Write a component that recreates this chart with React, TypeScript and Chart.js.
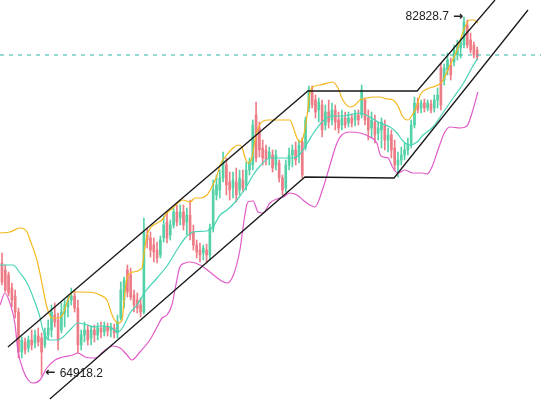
import React, { useEffect, useRef } from 'react';
import { Chart, registerables } from 'chart.js';

Chart.register(...registerables);

// ---- candle data (index 0..144) ----
const opens = [
  70530, 70180, 69930, 69280, 68880, 68080, 66080, 66580, 66280, 66680,
  66530, 66880, 66780, 66430, 66930, 67180, 67930, 67680, 67180, 68030,
  68330, 68680, 68880, 68280, 66430, 66930, 67180, 66780, 67180, 66930,
  67280, 67080, 67330, 67180, 67280, 67030, 67780, 68680, 70180, 69930,
  68930, 68680, 68430, 68080, 71930, 71780, 71430, 71180, 70930, 71780,
  72580, 71930, 72430, 73080, 72780, 73080, 72580, 72930, 72080, 71430,
  71180, 71030, 71180, 70930, 72280, 73930, 74180, 74780, 75430, 74580,
  74280, 74580, 74180, 74680, 74430, 75180, 75430, 77930, 77280, 76280,
  76180, 75780, 75930, 75430, 75530, 74780, 74280, 75430, 75930, 76180,
  75930, 76580, 76330, 78280, 79080, 78680, 78180, 78430, 77430, 78080,
  77680, 78180, 77680, 77430, 77780, 77530, 77780, 77680, 77930, 77930,
  78680, 77780, 77280, 77580, 77030, 77180, 77430, 76680, 76930, 76280,
  75430, 75680, 75930, 76180, 76430, 77430, 78530, 78280, 78530, 78280,
  78480, 78280, 78680, 80280, 79680, 80180, 80430, 80580, 80930, 81280,
  81430, 82430, 81680, 81430, 81180,
];
const highs = [
  71030, 70430, 70080, 69530, 69180, 68280, 66830, 66780, 66880, 67180,
  67180, 67280, 67030, 67280, 67680, 68430, 68530, 68030, 68530, 68680,
  68880, 69280, 69180, 68680, 67180, 67580, 67430, 67380, 67430, 67530,
  67580, 67580, 67530, 67530, 67480, 67930, 69580, 69830, 70430, 70280,
  69180, 69030, 68780, 72780, 72280, 72080, 71780, 71580, 71880, 72880,
  73080, 72680, 73280, 73430, 73430, 73430, 73280, 73680, 72430, 71680,
  71530, 71430, 71480, 72480, 74680, 74930, 75180, 76080, 75780, 75080,
  75080, 75280, 75180, 75180, 75580, 75780, 77680, 78580, 77580, 76680,
  76430, 76330, 76180, 76180, 75680, 74930, 75680, 76280, 76430, 76580,
  76680, 76780, 77830, 79380, 79380, 78930, 78780, 78680, 78430, 78680,
  78530, 78430, 78080, 78180, 78080, 78080, 77980, 78180, 78180, 79430,
  78780, 78180, 78080, 77930, 77580, 77780, 77680, 77280, 77180, 76680,
  76080, 76330, 76530, 76780, 77680, 78830, 78780, 78680, 78730, 78680,
  78680, 78930, 79280, 80530, 80480, 81030, 80780, 81430, 81680, 81780,
  82828.7, 82680, 82030, 81580, 81330,
];
const lows = [
  69430, 69080, 68880, 68330, 67780, 65780, 65780, 65980, 66080, 66180,
  66280, 66380, 64918.2, 66280, 66680, 66830, 67330, 66180, 67030, 67330,
  67830, 68430, 68080, 66030, 66180, 66580, 66430, 66430, 66580, 66680,
  66780, 66880, 66880, 66830, 66780, 66780, 67680, 68280, 68830, 68680,
  68080, 68030, 67830, 67980, 71280, 70830, 70580, 70530, 70780, 71580,
  71530, 71680, 72280, 72380, 72430, 72180, 71930, 71680, 71180, 70780,
  70580, 70680, 70580, 70680, 72080, 73680, 73780, 74580, 73930, 73680,
  73780, 73580, 73930, 74080, 74180, 74930, 75180, 75580, 75830, 75430,
  75430, 75430, 75080, 75180, 74580, 73930, 74080, 75180, 75330, 75430,
  75530, 74780, 76180, 78080, 78280, 77780, 77580, 76830, 77180, 77280,
  77430, 77180, 77030, 77180, 77280, 77330, 77330, 77380, 77430, 77780,
  77430, 76680, 76780, 76530, 76680, 76280, 76180, 76080, 75780, 75180,
  74830, 75430, 75680, 75930, 76280, 77280, 78030, 78030, 78080, 78130,
  78030, 78080, 78280, 78180, 79430, 79930, 79680, 80380, 80680, 80780,
  81280, 81280, 81030, 80780, 80680,
];
const closes = [
  69580, 69180, 69030, 68680, 68080, 66080, 66680, 66180, 66680, 66430,
  66930, 66580, 66080, 67030, 67280, 68080, 67580, 66680, 68080, 68430,
  68680, 68880, 68280, 66430, 66930, 67180, 66680, 67180, 66930, 67280,
  67080, 67380, 67130, 67330, 67030, 67580, 69180, 69680, 69080, 68830,
  68430, 68280, 68080, 72080, 71680, 71180, 71080, 70780, 71680, 72430,
  71780, 72430, 73080, 72580, 73080, 72430, 72930, 71930, 71430, 71080,
  70930, 71280, 70930, 72280, 74180, 74430, 74780, 75680, 74430, 74180,
  74680, 73930, 74780, 74280, 75180, 75580, 77430, 75780, 76180, 75780,
  75680, 76080, 75280, 75930, 74780, 74180, 75430, 75930, 76180, 75680,
  76430, 74930, 77680, 79180, 78430, 78080, 78580, 77180, 78080, 77580,
  78180, 77580, 77280, 77780, 77430, 77780, 77530, 77930, 77680, 79180,
  77680, 77180, 77680, 76930, 77280, 77580, 76680, 76930, 76180, 75430,
  75680, 75930, 76180, 76430, 77430, 78530, 78180, 78530, 78280, 78530,
  78180, 78680, 78930, 78430, 80280, 80680, 79930, 81180, 81430, 81580,
  82580, 81430, 81180, 80930, 80830,
];

// ---- Bollinger bands, [bar index, price] ----
const upperBand: [number, number][] = [
  [-0.6, 72030], [2.4, 72080], [5.5, 72280], [7.6, 72080], [8.5, 71680], [10.6, 70680],
  [12.1, 69530], [13.6, 68330], [15.2, 67780], [17.0, 67780], [18.5, 67980], [20.0, 68680],
  [21.5, 69080], [23.6, 69080], [28.2, 69030], [29.7, 68930], [31.8, 68680], [33.6, 67830],
  [35.2, 67530], [36.4, 67680], [37.0, 68680], [37.9, 69780], [39.7, 70080], [42.4, 70280],
  [43.3, 71330], [44.2, 72030], [47.0, 72530], [48.5, 72680], [50.0, 73030], [51.8, 73280],
  [53.3, 73530], [54.8, 73680], [57.0, 73580], [58.5, 73780], [60.0, 73780], [62.1, 73930],
  [63.6, 74330], [65.2, 74930], [66.1, 75430], [67.6, 75830], [70.0, 76280], [71.5, 76430],
  [72.7, 76330], [73.6, 75830], [74.5, 75530], [75.8, 75830], [76.7, 76680], [78.2, 77480],
  [80.6, 77680], [82.7, 77680], [85.8, 77680], [87.3, 77680], [88.2, 77330], [89.4, 76780],
  [90.3, 76580], [91.2, 76780], [92.4, 77830], [93.3, 79030], [94.2, 79330], [96.4, 79430],
  [100.3, 79580], [101.8, 79280], [103.3, 78680], [105.5, 78330], [107.0, 78430], [108.5, 78680],
  [110.6, 78780], [112.4, 78830], [114.5, 78830], [116.7, 78730], [118.5, 78680], [120.0, 78380],
  [121.5, 77830], [123.0, 77680], [124.5, 77980], [125.8, 78430], [126.7, 78930], [128.8, 79230],
  [130.6, 79330], [133.3, 79580], [135.8, 80430], [137.9, 81180], [139.4, 81930], [140.3, 82330],
  [141.8, 82680], [143.0, 82680], [144.2, 82530],
];
const midBand: [number, number][] = [
  [-0.6, 70430], [3.3, 70430], [5.5, 70030], [7.6, 69530], [9.4, 68830], [11.5, 67830],
  [12.4, 67180], [14.5, 66680], [16.7, 66680], [18.5, 66830], [20.6, 67180], [23.0, 67530],
  [25.8, 67430], [28.2, 67330], [29.7, 67380], [32.7, 67330], [35.2, 67080], [36.7, 67330],
  [38.8, 68030], [40.9, 68430], [43.3, 69080], [47.0, 69780], [50.0, 70380], [53.0, 71180],
  [55.5, 71780], [57.9, 72080], [62.1, 72130], [63.9, 72330], [66.1, 72930], [68.2, 73180],
  [71.2, 73680], [74.2, 74380], [76.1, 74930], [78.2, 75380], [81.2, 75780], [85.2, 75780],
  [88.2, 75780], [90.3, 75980], [92.4, 76480], [94.2, 76980], [97.3, 77630], [100.3, 77880],
  [103.3, 77880], [106.4, 77980], [108.5, 78030], [111.5, 77830], [114.5, 77530], [117.6, 77330],
  [119.7, 77030], [121.5, 76630], [123.6, 76430], [125.8, 76580], [127.6, 76930], [130.6, 77330],
  [133.6, 78030], [136.7, 78780], [139.7, 79480], [142.7, 80380], [144.2, 80780],
];
const lowerBand: [number, number][] = [
  [-0.6, 68430], [0.9, 69030], [2.4, 68530], [3.9, 67530], [4.8, 66180], [6.4, 65180],
  [7.9, 64680], [9.4, 64530], [11.5, 64680], [13.6, 65280], [16.1, 65680], [18.5, 65830],
  [21.5, 65930], [23.0, 66030], [25.2, 65830], [28.2, 65780], [30.6, 66080], [33.6, 66380],
  [35.8, 66280], [37.9, 65930], [39.4, 65680], [41.8, 66080], [44.8, 66680], [47.0, 67330],
  [48.5, 67780], [50.0, 67930], [51.5, 68430], [52.7, 69430], [53.9, 70330], [55.5, 70530],
  [57.0, 70580], [60.0, 70430], [63.0, 70080], [66.1, 69680], [68.2, 69530], [70.0, 69880],
  [72.1, 71180], [73.6, 72930], [74.5, 73580], [76.1, 73630], [77.6, 73080], [79.1, 73030],
  [81.2, 73530], [83.3, 73730], [85.2, 73830], [87.3, 74030], [89.4, 73930], [91.2, 73680],
  [93.3, 73430], [94.8, 73330], [97.3, 74280], [99.4, 75430], [101.5, 76530], [103.0, 76930],
  [105.5, 77080], [108.5, 77030], [111.5, 76830], [113.6, 76530], [114.8, 75880], [117.0, 75780],
  [118.5, 75280], [120.0, 75030], [122.1, 75180], [124.5, 75030], [127.3, 75030], [128.8, 74980],
  [130.3, 75330], [132.1, 76180], [134.2, 77080], [135.8, 77330], [138.8, 77280], [140.9, 77380],
  [142.7, 78180], [144.2, 79080],
];

// ---- channel trend lines, [bar index, price] ----
const upperChannel: [number, number][] = [[1.8, 66330], [92.7, 79130], [125.8, 79130], [149.4, 83680]];
const lowerChannel: [number, number][] = [[14.5, 63730], [91.8, 74830], [118.8, 74780], [159.4, 83180]];

const refPrice = 80930;
const highIndex = 140;
const lowIndex = 12;
const highLabel = '82828.7';
const lowLabel = '64918.2';
const legendTexts = ['82530.1', 'DN: 79080.3'];

const X_MIN = -0.6;
const X_MAX = 163.34;

const GREEN = '#55d1a7';
const RED = '#ee7c86';

const toPts = (arr: [number, number][]) => arr.map(([x, y]) => ({ x, y }));

export default function App() {
  const ref = useRef<HTMLCanvasElement | null>(null);

  useEffect(() => {
    if (!ref.current) return;
    const idx = opens.map((_, i) => i);
    const colors = idx.map((i) => (closes[i] >= opens[i] ? GREEN : RED));

    const annot = {
      id: 'annot',
      afterDatasetsDraw(chart: any) {
        const { ctx, scales } = chart;
        const x = scales.x;
        const y = scales.y;
        ctx.save();
        ctx.fillStyle = '#222';
        ctx.textBaseline = 'middle';
        const hx = x.getPixelForValue(highIndex);
        const hy = y.getPixelForValue(highs[highIndex]);
        // high label: "82828.7 →"
        ctx.font = 'bold 12px "DejaVu Sans", sans-serif';
        ctx.textAlign = 'right';
        const arrowW = ctx.measureText('\u2192').width;
        ctx.fillText('\u2192', hx - 1, hy);
        ctx.font = '12px Arial, "Liberation Sans", sans-serif';
        ctx.fillText(highLabel, hx - 1 - arrowW - 4, hy);
        // low label: "← 64918.2"
        const lx = x.getPixelForValue(lowIndex);
        const ly = y.getPixelForValue(lows[lowIndex]);
        ctx.textAlign = 'left';
        ctx.font = 'bold 12px "DejaVu Sans", sans-serif';
        const arrowW2 = ctx.measureText('\u2190').width;
        ctx.fillText('\u2190', lx + 4, ly - 2);
        ctx.font = '12px Arial, "Liberation Sans", sans-serif';
        ctx.fillText(lowLabel, lx + 4 + arrowW2 + 4, ly - 2);
        // cut-off legend at top
        ctx.font = '12px Arial, sans-serif';
        ctx.textBaseline = 'bottom';
        ctx.fillStyle = '#f2b300';
        ctx.fillText(legendTexts[0], 0, 3);
        ctx.fillStyle = '#e05cc6';
        ctx.fillText(legendTexts[1], 52, 3);
        ctx.restore();
      },
    };

    const lineDs = (label: string, data: [number, number][], color: string, extra: any = {}) => ({
      type: 'line' as const,
      label,
      data: toPts(data),
      borderColor: color,
      borderWidth: 1.2,
      pointRadius: 0,
      fill: false,
      cubicInterpolationMode: 'monotone',
      order: 1,
      ...extra,
    });

    const chart = new Chart(ref.current, {
      type: 'bar',
      data: {
        datasets: [
          lineDs('channelUp', upperChannel, '#1a1a1a', { cubicInterpolationMode: 'default', tension: 0, borderWidth: 1.3, order: 0 }),
          lineDs('channelDn', lowerChannel, '#1a1a1a', { cubicInterpolationMode: 'default', tension: 0, borderWidth: 1.3, order: 0 }),
          lineDs('ref', [[X_MIN, refPrice], [X_MAX, refPrice]], '#2fb5a6', { cubicInterpolationMode: 'default', tension: 0, borderWidth: 1, borderDash: [4, 5], order: 2 }),
          lineDs('upper', upperBand, '#f4b71c'),
          lineDs('mid', midBand, '#48d4b6'),
          lineDs('lower', lowerBand, '#e15bc8'),
          {
            type: 'bar' as const,
            label: 'body',
            data: idx.map((i) => ({ x: i, y: [opens[i], closes[i]] })) as any,
            backgroundColor: colors,
            barThickness: 2,
            grouped: false,
            order: 5,
          },
          {
            type: 'bar' as const,
            label: 'wick',
            data: idx.map((i) => ({ x: i, y: [lows[i], highs[i]] })) as any,
            backgroundColor: colors,
            barThickness: 1,
            grouped: false,
            order: 6,
          },
        ] as any,
      },
      options: {
        responsive: false,
        animation: false,
        layout: { padding: 0 },
        plugins: { legend: { display: false }, tooltip: { enabled: false } },
        scales: {
          x: { type: 'linear', min: X_MIN, max: X_MAX, display: false, offset: false },
          y: { type: 'linear', min: 63680, max: 83680, display: false },
        },
      },
      plugins: [annot],
    });
    return () => chart.destroy();
  }, []);

  return (
    <div style={{ position: 'fixed', left: 0, top: 0, width: 541, height: 400, background: '#fff' }}>
      <canvas ref={ref} width={541} height={400} style={{ display: 'block' }} />
    </div>
  );
}
